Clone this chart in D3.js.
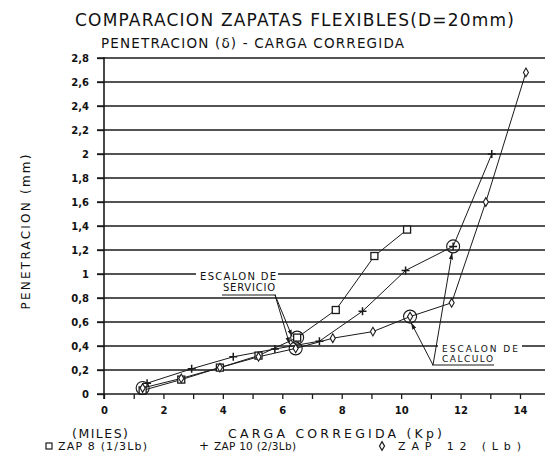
<!DOCTYPE html>
<html>
<head>
<meta charset="utf-8">
<script src="https://cdn.jsdelivr.net/npm/d3@7"></script>
<style>
body { margin: 0; background: #fff; }
text { font-family: "DejaVu Sans", sans-serif; fill: #111; }
</style>
</head>
<body>
<svg id="chart" width="547" height="457"></svg>
<script>
// values
var zap8X = [1.3, 2.6, 3.9, 5.2, 6.5, 7.8, 9.1, 10.2]
var zap8Y = [0.03, 0.12, 0.22, 0.32, 0.47, 0.70, 1.15, 1.37]
var zap10X = [1.45, 2.95, 4.35, 5.75, 7.25, 8.7, 10.15, 11.75, 13.05]
var zap10Y = [0.09, 0.21, 0.31, 0.375, 0.44, 0.69, 1.03, 1.23, 2.0]
var zap12X = [1.3, 2.6, 3.9, 5.2, 6.45, 7.7, 9.05, 10.3, 11.7, 12.85, 14.2]
var zap12Y = [0.05, 0.13, 0.22, 0.31, 0.38, 0.465, 0.52, 0.645, 0.76, 1.6, 2.68]
// indexes of the circled points (escalones)
var zap8Circ = [4]
var zap10Circ = [7]
var zap12Circ = [0, 4, 7]
var yTicks = [0, 0.2, 0.4, 0.6, 0.8, 1, 1.2, 1.4, 1.6, 1.8, 2, 2.2, 2.4, 2.6, 2.8]
var xTicks = [0, 1, 2, 3, 4, 5, 6, 7, 8, 9, 10, 11, 12, 13, 14]

var svg = d3.select("#chart")
var x = d3.scaleLinear().domain([0, 14]).range([104, 520])
var y = d3.scaleLinear().domain([0, 2.8]).range([394, 58])
var ink = "#1a1a1a"

// grid
svg.append("g").selectAll("line").data(yTicks).enter().append("line")
    .attr("x1", 97).attr("x2", 545)
    .attr("y1", function(d){return y(d)}).attr("y2", function(d){return y(d)})
    .attr("stroke", ink).attr("stroke-width", 1.3)

// y axis
var yAxis = d3.axisLeft(y).tickValues(yTicks).tickSize(7).tickPadding(8)
    .tickFormat(function(d){return String(+d.toFixed(1)).replace(".", ",")})
var gy = svg.append("g").attr("transform", "translate(104,0)").call(yAxis)
gy.select(".domain").remove()
gy.selectAll("line").attr("stroke", ink).attr("stroke-width", 1.3)
gy.selectAll("text").attr("font-size", "10px").attr("font-weight", "bold").attr("fill", ink)
svg.append("line").attr("x1", 104).attr("x2", 104).attr("y1", 57).attr("y2", 399)
    .attr("stroke", ink).attr("stroke-width", 1.6)

// x axis
var xAxis = d3.axisBottom(x).tickValues(xTicks).tickSize(5).tickPadding(8)
    .tickFormat(function(d){return d % 2 === 0 ? d : ""})
var gx = svg.append("g").attr("transform", "translate(0,394)").call(xAxis)
gx.select(".domain").remove()
gx.selectAll("line").attr("stroke", ink).attr("stroke-width", 1.3)
gx.selectAll("text").attr("font-size", "10px").attr("font-weight", "bold").attr("fill", ink)

// series lines
function drawLine(xs, ys) {
    var pts = xs.map(function(v, i){return [x(v), y(ys[i])]})
    svg.append("path").attr("d", d3.line()(pts)).attr("fill", "none")
        .attr("stroke", ink).attr("stroke-width", 1)
}
drawLine(zap8X, zap8Y)
drawLine(zap10X, zap10Y)
drawLine(zap12X, zap12Y)

// markers
svg.append("g").selectAll("rect").data(zap8X).enter().append("rect")
    .attr("x", function(d){return x(d) - 3.5})
    .attr("y", function(d, i){return y(zap8Y[i]) - 3.5})
    .attr("width", 7).attr("height", 7).attr("fill", "#fff").attr("stroke", ink).attr("stroke-width", 1.3)
svg.append("g").selectAll("path").data(zap10X).enter().append("path")
    .attr("d", function(d, i){var cx = x(d), cy = y(zap10Y[i]); return "M" + (cx - 4) + "," + cy + "h8M" + cx + "," + (cy - 4) + "v8"})
    .attr("stroke", ink).attr("stroke-width", 1.5)
svg.append("g").selectAll("path").data(zap12X).enter().append("path")
    .attr("d", d3.symbol().type(d3.symbolDiamond).size(22))
    .attr("transform", function(d, i){return "translate(" + x(d) + "," + y(zap12Y[i]) + ")"})
    .attr("fill", "#fff").attr("stroke", ink).attr("stroke-width", 1.1)

// circled points
function circ(xs, ys, idx) {
    svg.append("g").selectAll("circle").data(idx).enter().append("circle")
        .attr("cx", function(i){return x(xs[i])}).attr("cy", function(i){return y(ys[i])})
        .attr("r", 6.5).attr("fill", "none").attr("stroke", ink).attr("stroke-width", 1.1)
}
circ(zap8X, zap8Y, zap8Circ)
circ(zap10X, zap10Y, zap10Circ)
circ(zap12X, zap12Y, zap12Circ)

// arrow marker
svg.append("defs").append("marker").attr("id", "arr").attr("viewBox", "0 0 10 10")
    .attr("refX", 10).attr("refY", 5).attr("markerWidth", 7).attr("markerHeight", 7).attr("orient", "auto")
    .append("path").attr("d", "M0,2L10,5L0,8z").attr("fill", ink)

function label(txt, tx, ty, len, size, anchor) {
    var t = svg.append("text").text(txt).attr("x", tx).attr("y", ty).attr("font-size", size)
        .attr("text-anchor", anchor || "start")
    if (len) t.attr("textLength", len).attr("lengthAdjust", "spacing")
    return t
}
function whiteBox(bx, by, bw, bh) {
    svg.append("rect").attr("x", bx).attr("y", by).attr("width", bw).attr("height", bh).attr("fill", "#fff")
}
function leader(x1, y1, x2, y2) {
    svg.append("line").attr("x1", x1).attr("y1", y1).attr("x2", x2).attr("y2", y2)
        .attr("stroke", ink).attr("stroke-width", 1).attr("marker-end", "url(#arr)")
}

// escalon de servicio
whiteBox(196, 269, 82, 23)
label("ESCALON DE", 200, 280, 76, "10px")
label("SERVICIO", 223, 291, 52, "10px")
svg.append("line").attr("x1", 222).attr("x2", 276).attr("y1", 295).attr("y2", 295).attr("stroke", ink)
leader(275, 295, x(zap8X[4]) - 5, y(zap8Y[4]) - 1)
leader(275, 295, x(zap12X[4]) - 6, y(zap12Y[4]) - 4)

// escalon de calculo
whiteBox(438, 343, 84, 20)
label("ESCALON DE", 442, 352, 76, "9px")
label("CALCULO", 442, 362, 51, "9px")
svg.append("line").attr("x1", 432).attr("x2", 494).attr("y1", 365).attr("y2", 365).attr("stroke", ink)
leader(433, 365, x(zap12X[7]) + 1, y(zap12Y[7]) + 6)
leader(433, 365, x(zap10X[7]) - 1, y(zap10Y[7]) + 6)

// titles
label("COMPARACION  ZAPATAS FLEXIBLES(D=20mm)", 75, 26, 439, "17px")
label("PENETRACION (δ) - CARGA CORREGIDA", 101, 48, 303, "13.5px")
label("PENETRACION (mm)", 0, 0, 155, "12px", "middle")
    .attr("transform", "translate(30,232) rotate(-90)")
label("(MILES)", 72, 438, 56, "12.5px")
label("CARGA CORREGIDA (Kp)", 228, 438, 214, "12.5px")

// legend
svg.append("rect").attr("x", 46).attr("y", 443).attr("width", 6).attr("height", 6)
    .attr("fill", "none").attr("stroke", ink).attr("stroke-width", 1.2)
label("ZAP 8 (1/3Lb)", 58, 450, 89, "11px")
label("+", 199, 450, null, "12px")
label("ZAP 10 (2/3Lb)", 214, 450, 82, "10.5px")
svg.append("path").attr("d", d3.symbol().type(d3.symbolDiamond).size(22))
    .attr("transform", "translate(382,446)").attr("fill", "none").attr("stroke", ink).attr("stroke-width", 1.2)
label("ZAP  12 (Lb)", 398, 450, 123, "11px")
</script>
</body>
</html>
